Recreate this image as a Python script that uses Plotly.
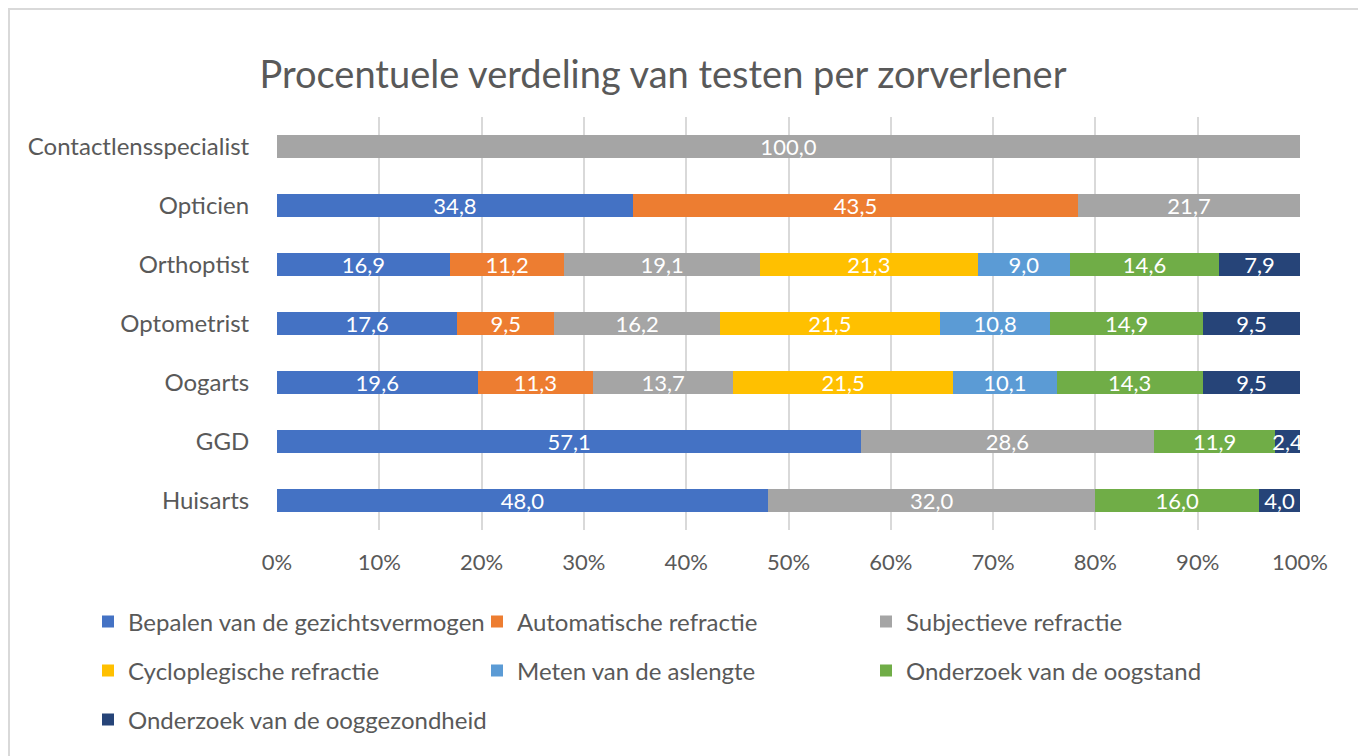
import plotly.graph_objects as go

categories = ["Contactlensspecialist", "Opticien", "Orthoptist", "Optometrist", "Oogarts", "GGD", "Huisarts"]

series_names = [
    "Bepalen van de gezichtsvermogen",
    "Automatische refractie",
    "Subjectieve refractie",
    "Cycloplegische refractie",
    "Meten van de aslengte",
    "Onderzoek van de oogstand",
    "Onderzoek van de ooggezondheid",
]

bepalen = [None, 34.8, 16.9, 17.6, 19.6, 57.1, 48.0]
automatische = [None, 43.5, 11.2, 9.5, 11.3, None, None]
subjectieve = [100.0, 21.7, 19.1, 16.2, 13.7, 28.6, 32.0]
cycloplegische = [None, None, 21.3, 21.5, 21.5, None, None]
aslengte = [None, None, 9.0, 10.8, 10.1, None, None]
oogstand = [None, None, 14.6, 14.9, 14.3, 11.9, 16.0]
ooggezondheid = [None, None, 7.9, 9.5, 9.5, 2.4, 4.0]

series_values = [bepalen, automatische, subjectieve, cycloplegische, aslengte, oogstand, ooggezondheid]
colors = ["#4472C4", "#ED7D31", "#A5A5A5", "#FFC000", "#5B9BD5", "#70AD47", "#264478"]
legend_ids = ["legend", "legend", "legend", "legend2", "legend2", "legend2", "legend3"]

tick_vals = [0, 10, 20, 30, 40, 50, 60, 70, 80, 90, 100]
tick_text = ["0%", "10%", "20%", "30%", "40%", "50%", "60%", "70%", "80%", "90%", "100%"]

FONT = "Lato"
GREY = "#595959"

# the page places the figure 8px in from the top-left corner
OFF = 8
W, H = 1366 - OFF, 756 - OFF
L = 277 - OFF
T = 117 - OFF
R = W - (1300 - OFF)
B = H - (530 - OFF)
pw = W - L - R
ph = H - T - B

def px_x(px):
    return (px - OFF - L) / pw

def px_y(py):
    return (H - B - (py - OFF)) / ph

fig = go.Figure()
for name, vals, col, lg in zip(series_names, series_values, colors, legend_ids):
    fig.add_trace(go.Bar(
        y=categories,
        x=vals,
        name=name,
        orientation="h",
        marker=dict(color=col, line=dict(width=0)),
        text=[None if v is None else f"{v:.1f}".replace(".", ",") for v in vals],
        textposition="inside",
        insidetextanchor="middle",
        constraintext="none",
        textfont=dict(color="white", size=22, family=FONT),
        legend=lg,
        hoverinfo="skip",
    ))

legend_common = dict(
    orientation="h",
    xanchor="left",
    yanchor="middle",
    x=px_x(88),
    font=dict(size=24, color=GREY, family=FONT),
    bgcolor="rgba(0,0,0,0)",
    traceorder="normal",
)

fig.update_layout(
    width=W, height=H,
    barmode="stack",
    bargap=0.6,
    paper_bgcolor="white",
    plot_bgcolor="white",
    margin=dict(l=L, r=R, t=T, b=B, autoexpand=False),
    title=dict(
        text="Procentuele verdeling van testen per zorverlener",
        font=dict(size=38, color=GREY, family=FONT),
        x=(663 - OFF) / W, xanchor="center",
        y=1 - (75 - OFF) / H, yanchor="middle",
    ),
    font=dict(family=FONT, color=GREY),
    legend=dict(**legend_common, y=px_y(622), entrywidth=344, entrywidthmode="pixels"),
    legend2=dict(**legend_common, y=px_y(671), entrywidth=344, entrywidthmode="pixels"),
    legend3=dict(**legend_common, y=px_y(720)),
    xaxis=dict(
        range=[0, 100],
        tickvals=tick_vals,
        ticktext=tick_text,
        showgrid=True,
        gridcolor="#D9D9D9",
        gridwidth=1.5,
        zeroline=False,
        showline=False,
        ticks="outside",
        ticklen=13,
        tickcolor="rgba(0,0,0,0)",
        tickfont=dict(size=22, color=GREY, family=FONT),
        fixedrange=True,
    ),
    yaxis=dict(
        categoryorder="array",
        categoryarray=categories,
        autorange="reversed",
        showgrid=False,
        zeroline=False,
        showline=False,
        ticks="outside",
        ticklen=22,
        tickcolor="rgba(0,0,0,0)",
        tickfont=dict(size=24, color=GREY, family=FONT),
        fixedrange=True,
    ),
    shapes=[dict(
        type="rect", xref="paper", yref="paper",
        x0=px_x(9), x1=px_x(1362), y0=px_y(780), y1=px_y(9),
        line=dict(color="#D9D9D9", width=2), fillcolor="rgba(0,0,0,0)",
        layer="below",
    )],
)

fig.write_html("out.html")
